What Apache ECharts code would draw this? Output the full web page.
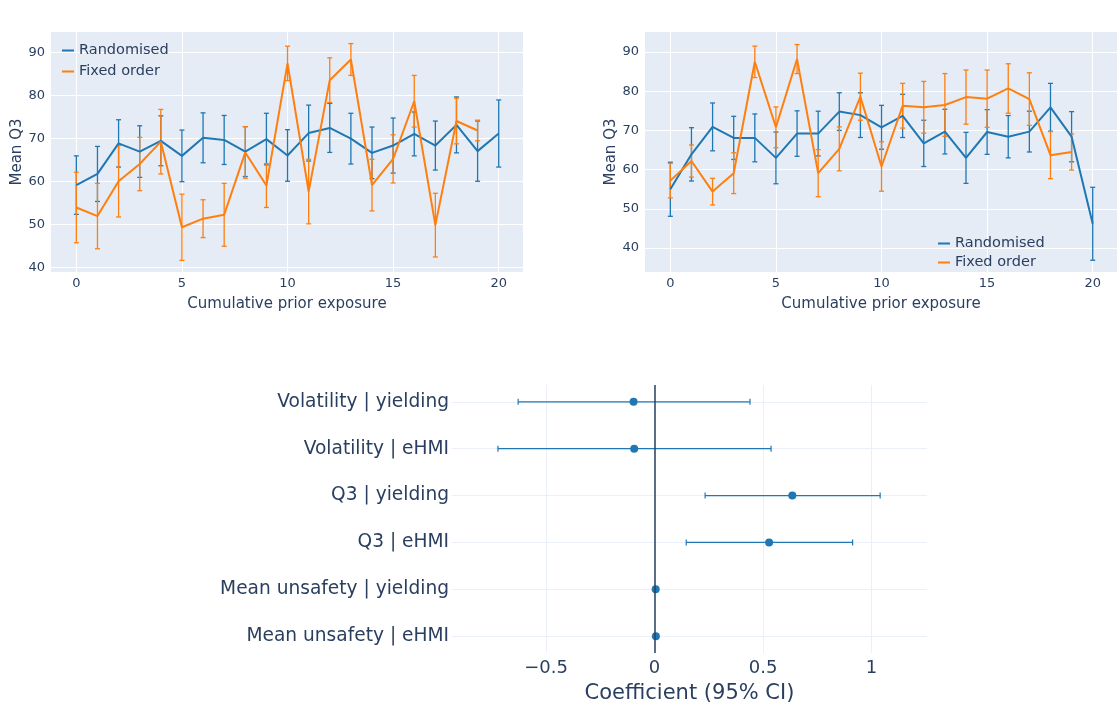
<!DOCTYPE html>
<html>
<head>
<meta charset="utf-8">
<script src="https://cdn.jsdelivr.net/npm/echarts@6/dist/echarts.min.js"></script>
<style>
  html, body { margin: 0; padding: 0; background: #fff; }
  #chart { width: 1117px; height: 709px; }
</style>
</head>
<body>
<div id="chart"></div>
<script>
// exposure counts (x axis of the two upper panels)
var exposure = [0,1,2,3,4,5,6,7,8,9,10,11,12,13,14,15,16,17,18,19,20];
var xTicks = [0, 5, 10, 15, 20];
var yTicks = [40, 50, 60, 70, 80, 90];

// left panel
var leftRandMean = [59.1, 61.7, 68.8, 66.9, 69.4, 65.9, 70.1, 69.6, 66.9, 69.8, 66.0, 71.2, 72.4, 69.9, 66.6, 68.3, 71.0, 68.3, 73.1, 67.0, 71.1];
var leftRandErr  = [6.8, 6.4, 5.5, 6.0, 5.8, 6.0, 5.8, 5.7, 5.8, 6.0, 6.0, 6.5, 5.7, 5.9, 6.0, 6.4, 5.1, 5.7, 6.5, 7.0, 7.8];
var leftFixedMean = [53.9, 51.9, 60.0, 64.0, 69.2, 49.3, 51.3, 52.2, 66.7, 59.0, 87.4, 57.6, 83.5, 88.3, 59.1, 65.2, 78.6, 49.8, 74.0, 71.8];
var leftFixedErr  = [8.2, 7.6, 8.3, 6.2, 7.5, 7.7, 4.4, 7.3, 6.0, 5.1, 4.0, 7.5, 5.2, 3.7, 6.0, 5.6, 6.0, 7.4, 5.3, 2.4];

// right panel
var rightRandMean = [55.0, 63.9, 70.9, 68.1, 68.1, 63.0, 69.2, 69.2, 74.8, 73.9, 70.8, 73.7, 66.7, 69.7, 63.0, 69.6, 68.4, 69.7, 75.9, 68.4, 46.2];
var rightRandErr  = [6.9, 6.8, 6.1, 5.5, 6.1, 6.6, 5.8, 5.7, 4.8, 5.7, 5.6, 5.5, 5.9, 5.7, 6.5, 5.7, 5.4, 5.2, 6.1, 6.4, 9.3];
var rightFixedMean = [57.2, 62.2, 54.4, 59.1, 87.5, 70.8, 88.2, 59.1, 65.3, 78.6, 60.8, 76.3, 75.9, 76.5, 78.5, 78.1, 80.7, 78.0, 63.7, 64.5];
var rightFixedErr  = [4.4, 4.1, 3.4, 5.2, 4.0, 5.2, 3.7, 6.0, 5.6, 6.0, 6.3, 5.7, 6.6, 8.0, 6.9, 7.3, 6.3, 6.7, 6.0, 4.6];

// coefficient plot
var terms = ['Volatility | yielding', 'Volatility | eHMI', 'Q3 | yielding', 'Q3 | eHMI', 'Mean unsafety | yielding', 'Mean unsafety | eHMI'];
var coef   = [-0.097, -0.094, 0.635, 0.528, 0.005, 0.006];
var ciLow  = [-0.629, -0.722, 0.233, 0.146, 0.003, 0.004];
var ciHigh = [0.440, 0.537, 1.040, 0.913, 0.007, 0.008];
var coefTicks = [-0.5, 0, 0.5, 1];

var BLUE = '#1f77b4', ORANGE = '#ff7f0e', TXT = '#2a3f5f';
var FONT = 'DejaVu Sans';

function points(mean) {
  return mean.map(function (v, i) { return [exposure[i], v]; });
}
function bars(mean, err) {
  return mean.map(function (v, i) { return [exposure[i], v - err[i], v + err[i]]; });
}

// vertical error bar with caps
function vBar(params, api) {
  var top = api.coord([api.value(0), api.value(2)]);
  var bot = api.coord([api.value(0), api.value(1)]);
  var w = 2.5;
  var st = { stroke: api.visual('color'), lineWidth: 1.3 };
  return { type: 'group', children: [
    { type: 'line', shape: { x1: top[0], y1: top[1], x2: bot[0], y2: bot[1] }, style: st },
    { type: 'line', shape: { x1: top[0] - w, y1: top[1], x2: top[0] + w, y2: top[1] }, style: st },
    { type: 'line', shape: { x1: bot[0] - w, y1: bot[1], x2: bot[0] + w, y2: bot[1] }, style: st }
  ]};
}
// horizontal error bar with caps
function hBar(params, api) {
  var l = api.coord([api.value(1), api.value(0)]);
  var r = api.coord([api.value(2), api.value(0)]);
  var h = 3;
  var st = { stroke: BLUE, lineWidth: 1.2 };
  return { type: 'group', children: [
    { type: 'line', shape: { x1: l[0], y1: l[1], x2: r[0], y2: r[1] }, style: st },
    { type: 'line', shape: { x1: l[0], y1: l[1] - h, x2: l[0], y2: l[1] + h }, style: st },
    { type: 'line', shape: { x1: r[0], y1: r[1] - h, x2: r[0], y2: r[1] + h }, style: st }
  ]};
}

function topX(idx) {
  return {
    type: 'value', gridIndex: idx, min: -1.2, max: 21.15,
    name: 'Cumulative prior exposure', nameLocation: 'middle', nameGap: 25,
    nameTextStyle: { color: TXT, fontSize: 15, fontFamily: FONT },
    axisLine: { show: false }, axisTick: { show: false, customValues: xTicks },
    axisLabel: { customValues: xTicks, color: TXT, fontSize: 13, fontFamily: FONT, margin: 5 },
    splitLine: { show: true, lineStyle: { color: '#fff', width: 1 } }
  };
}
function topY(idx, min, max, gap) {
  return {
    type: 'value', gridIndex: idx, min: min, max: max,
    name: 'Mean Q3', nameLocation: 'middle', nameGap: gap,
    nameTextStyle: { color: TXT, fontSize: 15, fontFamily: FONT },
    axisLine: { show: false }, axisTick: { show: false, customValues: yTicks },
    axisLabel: { customValues: yTicks, color: TXT, fontSize: 13, fontFamily: FONT, margin: 6 },
    splitLine: { show: true, lineStyle: { color: '#fff', width: 1 } }
  };
}

var legendBase = {
  orient: 'vertical', itemWidth: 12, itemHeight: 2, itemGap: 6,
  icon: 'path://M0,0L12,0L12,2L0,2Z',
  textStyle: { color: TXT, fontSize: 14.5, fontFamily: FONT },
  data: ['Randomised', 'Fixed order']
};

var rowIdx = terms.map(function (t, i) { return i; });

var option = {
  animation: false,
  textStyle: { fontFamily: FONT },
  grid: [
    { left: 51, top: 32, width: 472, height: 240, backgroundColor: '#E5ECF6', show: true, borderWidth: 0, outerBoundsMode: 'none' },
    { left: 645, top: 32, width: 472, height: 240, backgroundColor: '#E5ECF6', show: true, borderWidth: 0, outerBoundsMode: 'none' },
    { left: 452, top: 385, width: 475, height: 268, outerBoundsMode: 'none' }
  ],
  legend: [
    Object.assign({}, legendBase, { left: 57, top: 38 }),
    Object.assign({}, legendBase, { left: 933, top: 231, itemGap: 4 })
  ],
  xAxis: [
    topX(0), topX(1),
    {
      type: 'value', gridIndex: 2, min: -0.934, max: 1.256,
      name: 'Coefficient (95% CI)', nameLocation: 'middle', nameGap: 30,
      nameTextStyle: { color: TXT, fontSize: 21, fontFamily: FONT },
      axisLine: { show: false }, axisTick: { show: false, customValues: coefTicks },
      axisLabel: { customValues: coefTicks, color: TXT, fontSize: 18, fontFamily: FONT, margin: 6,
        formatter: function (v) { return v < 0 ? '\u2212' + Math.abs(v) : String(v); } },
      splitLine: { show: true, lineStyle: { color: '#EBF0F8', width: 1 } }
    }
  ],
  yAxis: [
    topY(0, 38.9, 94.7, 19), topY(1, 33.9, 95.1, 20),
    {
      type: 'value', gridIndex: 2, min: -0.36, max: 5.36, inverse: true,
      axisLine: { show: false }, axisTick: { show: false, customValues: rowIdx },
      axisLabel: { customValues: rowIdx, color: TXT, fontSize: 18.6, fontFamily: FONT, margin: 3,
        formatter: function (v) { return terms[Math.round(v)]; } },
      splitLine: { show: true, lineStyle: { color: '#EBF0F8', width: 1 } }
    }
  ],
  series: [
    { type: 'custom', name: 'Randomised', xAxisIndex: 0, yAxisIndex: 0, itemStyle: { color: BLUE },
      renderItem: vBar, data: bars(leftRandMean, leftRandErr), encode: { x: 0, y: [1, 2] } },
    { type: 'line', name: 'Randomised', xAxisIndex: 0, yAxisIndex: 0, symbol: 'none', color: BLUE,
      lineStyle: { width: 2 }, data: points(leftRandMean) },
    { type: 'custom', name: 'Fixed order', xAxisIndex: 0, yAxisIndex: 0, itemStyle: { color: ORANGE },
      renderItem: vBar, data: bars(leftFixedMean, leftFixedErr), encode: { x: 0, y: [1, 2] } },
    { type: 'line', name: 'Fixed order', xAxisIndex: 0, yAxisIndex: 0, symbol: 'none', color: ORANGE,
      lineStyle: { width: 2 }, data: points(leftFixedMean) },

    { type: 'custom', name: 'Randomised', xAxisIndex: 1, yAxisIndex: 1, itemStyle: { color: BLUE },
      renderItem: vBar, data: bars(rightRandMean, rightRandErr), encode: { x: 0, y: [1, 2] } },
    { type: 'line', name: 'Randomised', xAxisIndex: 1, yAxisIndex: 1, symbol: 'none', color: BLUE,
      lineStyle: { width: 2 }, data: points(rightRandMean) },
    { type: 'custom', name: 'Fixed order', xAxisIndex: 1, yAxisIndex: 1, itemStyle: { color: ORANGE },
      renderItem: vBar, data: bars(rightFixedMean, rightFixedErr), encode: { x: 0, y: [1, 2] } },
    { type: 'line', name: 'Fixed order', xAxisIndex: 1, yAxisIndex: 1, symbol: 'none', color: ORANGE,
      lineStyle: { width: 2 }, data: points(rightFixedMean) },

    { type: 'custom', name: 'ci', xAxisIndex: 2, yAxisIndex: 2, renderItem: hBar,
      data: rowIdx.map(function (i) { return [i, ciLow[i], ciHigh[i]]; }), encode: { y: 0, x: [1, 2] } },
    { type: 'scatter', name: 'coef', xAxisIndex: 2, yAxisIndex: 2, symbolSize: 8, itemStyle: { color: BLUE, opacity: 1 },
      data: rowIdx.map(function (i) { return [coef[i], i]; }),
      markLine: { silent: true, symbol: 'none', label: { show: false },
        lineStyle: { color: '#2a3f5f', width: 1.5, type: 'solid' },
        data: [{ xAxis: 0 }] } }
  ]
};

var chart = echarts.init(document.getElementById('chart'));
chart.setOption(option);
</script>
</body>
</html>
